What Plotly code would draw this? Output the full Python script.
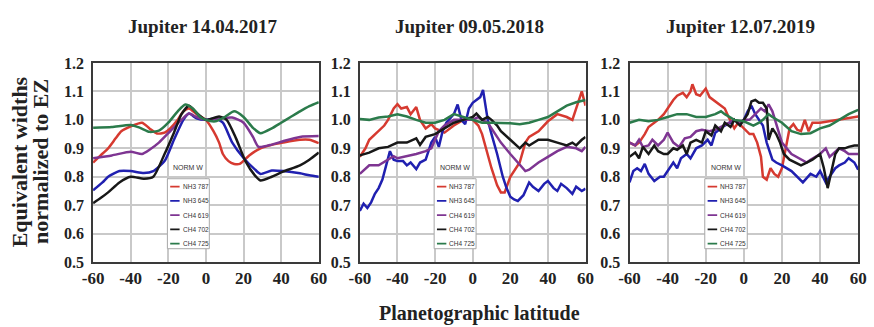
import plotly.graph_objects as go

# ---------------- data ----------------
titles = ["Jupiter 14.04.2017", "Jupiter 09.05.2018", "Jupiter 12.07.2019"]
series_names = ["NH3 787", "NH3 645", "CH4 619", "CH4 702", "CH4 725"]
series_colors = ["#d63a30", "#2020b0", "#7e3592", "#181818", "#2b7b4b"]
x_ticks = [-60, -40, -20, 0, 20, 40, 60]
x_tick_text = ["-60", "-40", "-20", "0", "20", "40", "60"]
y_ticks = [0.5, 0.6, 0.7, 0.8, 0.9, 1.0, 1.1, 1.2]
y_tick_text = ["0.5", "0.6", "0.7", "0.8", "0.9", "1.0", "1.1", "1.2"]

# 2017
lat17_nh3_787 = [-60, -56, -52, -48, -45, -40, -34, -30, -26, -22, -19, -15, -12, -9, -5, 0, 4, 7, 9, 12, 15, 18, 23, 29, 35, 41, 50, 55, 60]
w17_nh3_787 = [0.85, 0.875, 0.9, 0.935, 0.96, 0.977, 0.99, 0.97, 0.952, 0.955, 0.97, 1.0, 1.03, 1.04, 1.02, 1.0, 0.96, 0.92, 0.88, 0.855, 0.845, 0.845, 0.875, 0.9, 0.912, 0.92, 0.93, 0.93, 0.918]
lat17_nh3_645 = [-60, -55, -52, -46, -40, -33, -28, -22, -17, -12, -9, -5, 0, 5, 9, 14, 20, 26, 29, 35, 41, 50, 55, 60]
w17_nh3_645 = [0.752, 0.78, 0.8, 0.82, 0.82, 0.813, 0.82, 0.855, 0.93, 1.0, 1.022, 1.005, 1.0, 1.005, 0.99, 0.92, 0.866, 0.826, 0.81, 0.822, 0.82, 0.812, 0.805, 0.8]
lat17_ch4_619 = [-60, -50, -40, -34, -30, -25, -19, -13, -9, -5, 0, 7, 14, 20, 25, 28, 35, 41, 50, 60]
w17_ch4_619 = [0.865, 0.875, 0.888, 0.88, 0.895, 0.92, 0.96, 1.0, 1.022, 1.01, 1.0, 1.005, 1.008, 0.99, 0.94, 0.905, 0.913, 0.925, 0.94, 0.943]
lat17_ch4_702 = [-60, -56, -52, -46, -40, -33, -28, -22, -17, -13, -9, -5, 0, 7, 11, 16, 21, 26, 29, 35, 41, 50, 55, 60]
w17_ch4_702 = [0.707, 0.725, 0.745, 0.78, 0.8, 0.793, 0.8, 0.88, 0.955, 1.02, 1.05, 1.025, 1.0, 1.012, 1.0, 0.935, 0.855, 0.805, 0.787, 0.8, 0.818, 0.84, 0.86, 0.885]
lat17_ch4_725 = [-60, -50, -40, -35, -30, -25, -20, -15, -11, -7, -3, 0, 5, 10, 15, 20, 25, 29, 35, 40, 45, 50, 55, 60]
w17_ch4_725 = [0.972, 0.975, 0.982, 0.972, 0.958, 0.962, 0.99, 1.03, 1.054, 1.04, 1.01, 1.0, 0.995, 1.01, 1.03, 1.01, 0.972, 0.953, 0.97, 0.99, 1.01, 1.03, 1.048, 1.062]

# 2018
lat18_nh3_787 = [-60, -57, -55, -50, -47, -45, -42, -40, -38, -35, -33, -30, -28, -25, -22, -20, -15, -10, -5, 0, 3, 5, 7, 10, 13, 15, 17, 20, 25, 28, 30, 35, 40, 45, 50, 53, 56, 58, 60]
w18_nh3_787 = [0.87, 0.9, 0.93, 0.96, 0.98, 1.0, 1.04, 1.055, 1.04, 1.045, 1.02, 1.045, 1.0, 0.97, 0.985, 0.97, 0.955, 0.98, 1.0, 1.0, 0.98, 0.95, 0.9, 0.83, 0.77, 0.745, 0.745, 0.8, 0.85, 0.92, 0.94, 0.96, 0.995, 1.02, 1.01, 1.0, 1.06, 1.1, 1.05]
lat18_nh3_645 = [-60, -58, -56, -54, -52, -50, -48, -46, -44, -42, -40, -37, -35, -33, -30, -28, -25, -22, -20, -18, -16, -14, -10, -8, -6, -4, -2, 0, 2, 4, 5.5, 7, 8, 10, 13, 16, 18, 20, 22, 24, 27, 30, 32, 35, 38, 40, 43, 45, 47, 50, 53, 55, 58, 60]
w18_nh3_645 = [0.68, 0.705, 0.69, 0.71, 0.74, 0.76, 0.79, 0.84, 0.89, 0.86, 0.855, 0.855, 0.84, 0.85, 0.827, 0.85, 0.86, 0.92, 0.94, 0.905, 0.96, 0.99, 1.02, 1.054, 1.0, 0.985, 1.04, 1.06, 1.07, 1.08, 1.105, 1.04, 1.0, 0.95, 0.88, 0.8, 0.76, 0.73, 0.72, 0.715, 0.735, 0.78, 0.765, 0.75, 0.775, 0.785, 0.76, 0.75, 0.775, 0.76, 0.74, 0.765, 0.75, 0.758]
lat18_ch4_619 = [-60, -57, -55, -50, -45, -42, -40, -35, -30, -25, -22, -20, -18, -15, -10, -5, 0, 3, 5, 8, 10, 13, 15, 20, 25, 28, 30, 35, 40, 45, 50, 55, 58, 60]
w18_ch4_619 = [0.81, 0.83, 0.84, 0.84, 0.86, 0.872, 0.865, 0.872, 0.88, 0.89, 0.9, 0.93, 0.96, 0.98, 1.0, 1.0, 1.0, 1.01, 1.0, 0.99, 0.97, 0.94, 0.92, 0.88, 0.84, 0.82, 0.825, 0.85, 0.87, 0.89, 0.905, 0.9, 0.89, 0.905]
lat18_ch4_702 = [-60, -55, -50, -45, -40, -35, -30, -28, -25, -20, -15, -10, -5, 0, 2, 5, 8, 10, 13, 15, 20, 25, 28, 30, 35, 40, 45, 50, 53, 55, 58, 60]
w18_ch4_702 = [0.875, 0.885, 0.9, 0.905, 0.92, 0.92, 0.935, 0.912, 0.94, 0.95, 0.97, 0.99, 1.0, 1.01, 1.022, 1.0, 1.01, 1.0, 0.98, 0.96, 0.93, 0.9, 0.92, 0.91, 0.93, 0.93, 0.92, 0.91, 0.92, 0.91, 0.93, 0.94]
lat18_ch4_725 = [-60, -55, -50, -45, -40, -35, -30, -25, -20, -15, -10, -5, 0, 5, 10, 15, 20, 25, 30, 35, 40, 45, 50, 55, 60]
w18_ch4_725 = [1.003, 1.0, 1.008, 1.012, 1.02, 1.012, 1.0, 0.99, 0.99, 1.0, 1.02, 1.01, 1.0, 0.99, 0.99, 0.99, 0.988, 0.985, 0.99, 1.0, 1.01, 1.03, 1.05, 1.062, 1.07]

# 2019
lat19_nh3_787 = [-60, -57, -55, -52, -50, -47, -45, -42, -40, -37, -35, -32, -30, -28, -27, -25, -23, -20, -18, -15, -12, -10, -8, -5, -3, 0, 3, 5, 7, 9, 10, 12, 14, 16, 18, 20, 22, 24, 26, 28, 30, 32, 34, 36, 40, 45, 50, 55, 60]
w19_nh3_787 = [0.92, 0.91, 0.92, 0.95, 0.975, 0.99, 1.0, 1.02, 1.04, 1.07, 1.085, 1.095, 1.08, 1.1, 1.125, 1.09, 1.085, 1.11, 1.08, 1.065, 1.05, 1.04, 1.01, 0.97, 0.99, 0.97, 0.95, 0.95, 0.92, 0.87, 0.8, 0.79, 0.83, 0.81, 0.8, 0.83, 0.9, 0.97, 0.985, 0.965, 0.96, 1.0, 0.96, 0.99, 0.99, 0.995, 1.0, 1.005, 1.012]
lat19_nh3_645 = [-60, -58, -56, -54, -52, -50, -47, -44, -42, -40, -37, -35, -33, -30, -28, -25, -22, -19, -17, -15, -12, -10, -7, -5, -2, 0, 2, 4, 6, 8, 10, 12, 15, 17, 20, 25, 28, 31, 35, 38, 40, 43, 45, 48, 50, 53, 55, 58, 60]
w19_nh3_645 = [0.78, 0.82, 0.83, 0.82, 0.845, 0.81, 0.785, 0.8, 0.8, 0.82, 0.85, 0.83, 0.865, 0.88, 0.865, 0.9, 0.91, 0.93, 0.91, 0.955, 0.97, 0.98, 0.99, 1.0, 0.99, 1.0, 1.03, 1.05, 1.02, 1.0, 0.98, 0.92, 0.86, 0.85, 0.84, 0.82, 0.8, 0.78, 0.81, 0.8, 0.82, 0.78, 0.8, 0.83, 0.84, 0.85, 0.865, 0.85, 0.825]
lat19_ch4_619 = [-60, -57, -55, -53, -50, -48, -45, -42, -40, -37, -34, -31, -28, -25, -22, -18, -15, -12, -8, -5, -2, 0, 3, 6, 9, 11, 13, 15, 18, 20, 25, 30, 33, 35, 40, 43, 45, 50, 53, 55, 60]
w19_ch4_619 = [0.92, 0.91, 0.93, 0.905, 0.91, 0.93, 0.91, 0.93, 0.955, 0.92, 0.905, 0.935, 0.94, 0.96, 0.965, 0.96, 0.965, 0.975, 0.99, 1.0, 0.99, 1.0, 1.0, 1.02, 1.04, 1.03, 1.055, 1.03, 0.96, 0.92, 0.88, 0.86, 0.85, 0.86, 0.88, 0.9, 0.87, 0.9, 0.89, 0.88, 0.88]
lat19_ch4_702 = [-60, -57, -55, -53, -50, -47, -45, -42, -40, -37, -35, -32, -30, -28, -25, -22, -20, -17, -15, -12, -10, -7, -5, -2, 0, 2, 4, 6, 8, 10, 12, 13, 15, 17, 19, 21, 24, 27, 30, 33, 36, 40, 42, 44, 46, 48, 50, 53, 55, 58, 60]
w19_ch4_702 = [0.87, 0.885, 0.865, 0.905, 0.88, 0.91, 0.89, 0.88, 0.88, 0.9, 0.895, 0.91, 0.88, 0.92, 0.93, 0.92, 0.96, 0.945, 0.98, 0.96, 0.99, 0.975, 1.0, 0.98, 1.0, 1.02, 1.065, 1.07, 1.06, 1.06, 1.04, 0.93, 0.97, 0.95, 0.92, 0.88, 0.86, 0.85, 0.84, 0.85, 0.86, 0.88, 0.83, 0.76, 0.82, 0.88, 0.9, 0.9, 0.905, 0.91, 0.91]
lat19_ch4_725 = [-60, -55, -50, -45, -40, -35, -30, -25, -20, -15, -12, -10, -5, 0, 5, 8, 10, 13, 15, 20, 25, 30, 35, 40, 45, 50, 55, 60]
w19_ch4_725 = [0.99, 1.0, 0.995, 1.0, 1.01, 1.02, 1.02, 1.01, 1.01, 1.02, 1.03, 1.02, 1.0, 0.995, 0.98, 0.99, 1.0, 1.02, 1.01, 0.99, 0.96, 0.95, 0.953, 0.97, 0.98, 1.0, 1.02, 1.035]

panels = [
    [(lat17_nh3_787, w17_nh3_787), (lat17_nh3_645, w17_nh3_645), (lat17_ch4_619, w17_ch4_619), (lat17_ch4_702, w17_ch4_702), (lat17_ch4_725, w17_ch4_725)],
    [(lat18_nh3_787, w18_nh3_787), (lat18_nh3_645, w18_nh3_645), (lat18_ch4_619, w18_ch4_619), (lat18_ch4_702, w18_ch4_702), (lat18_ch4_725, w18_ch4_725)],
    [(lat19_nh3_787, w19_nh3_787), (lat19_nh3_645, w19_nh3_645), (lat19_ch4_619, w19_ch4_619), (lat19_ch4_702, w19_ch4_702), (lat19_ch4_725, w19_ch4_725)],
]

# ---------------- layout ----------------
W, H = 874, 327
x_domains = [(84 / W, 315 / W), (357 / W, 588 / W), (633 / W, 867 / W)]
y_domain = (1 - 268 / H, 1 - 58 / H)
SERIF = "Liberation Serif"

fig = go.Figure()
shapes = []
annotations = []

for p, series in enumerate(panels):
    sfx = "" if p == 0 else str(p + 1)
    xref, yref = "x" + sfx, "y" + sfx
    for s, (lat, w) in enumerate(series):
        fig.add_trace(go.Scatter(
            x=lat, y=w, mode="lines", name=series_names[s], showlegend=False,
            xaxis=xref, yaxis=yref,
            line=dict(color=series_colors[s], width=2.5,
                      shape="spline" if p == 0 else "linear", smoothing=0.6),
        ))
    fig.update_layout({
        "xaxis" + sfx: dict(
            domain=list(x_domains[p]), range=[-60, 60], tickvals=x_ticks, ticktext=x_tick_text,
            anchor=yref, showgrid=True, gridcolor="#c9c9c9", gridwidth=1.6, zeroline=False,
            showline=True, linecolor="#3a3a3a", linewidth=2, mirror=True, ticks="",
            tickfont=dict(family=SERIF, size=17, color="#222", weight=700),
        ),
        "yaxis" + sfx: dict(
            domain=list(y_domain), range=[0.5, 1.2], tickvals=y_ticks, ticktext=y_tick_text,
            anchor=xref, showgrid=True, gridcolor="#c9c9c9", gridwidth=1.6, zeroline=False,
            showline=True, linecolor="#3a3a3a", linewidth=2, mirror=True, ticks="",
            ticklabelstandoff=4,
            tickfont=dict(family=SERIF, size=16, color="#222", weight=700),
        ),
    })
    # panel title
    annotations.append(dict(
        text="<b>" + titles[p] + "</b>", xref="paper", yref="paper",
        x=(x_domains[p][0] + x_domains[p][1]) / 2 - 3 / W, y=1 - 19 / H,
        xanchor="center", yanchor="middle",
        showarrow=False, font=dict(family=SERIF, size=19, color="#222"),
    ))
    # legend box
    shapes.append(dict(type="rect", xref=xref, yref=yref, x0=-20.5, x1=1.8, y0=0.547, y1=0.793,
                       line=dict(color="#a8a8a8", width=1), fillcolor="white", layer="between"))
    annotations.append(dict(text="NORM W", xref=xref, yref=yref, x=-9.5, y=0.832,
                            xanchor="center", yanchor="middle",
                            showarrow=False, font=dict(family="Liberation Sans", size=7, color="#333")))
    for s in range(5):
        yy = 0.765 - 0.05 * s
        shapes.append(dict(type="line", xref=xref, yref=yref, x0=-19, x1=-14, y0=yy, y1=yy,
                           line=dict(color=series_colors[s], width=1.8), layer="above"))
        annotations.append(dict(text=series_names[s], xref=xref, yref=yref, x=-13.5, y=yy,
                                xanchor="left", yanchor="middle", showarrow=False,
                                font=dict(family="Liberation Sans", size=6.5, color="#333")))

# axis titles
annotations.append(dict(text="<b>Planetographic latitude</b>", xref="paper", yref="paper",
                        x=479 / W, y=1 - 322 / H, xanchor="center", yanchor="middle", showarrow=False,
                        font=dict(family=SERIF, size=20, color="#222")))
annotations.append(dict(text="<b>Equivalent widths</b>", xref="paper", yref="paper",
                        x=9 / W, y=1 - 162 / H, xanchor="center", yanchor="middle",
                        textangle=-90, showarrow=False,
                        font=dict(family=SERIF, size=22, color="#222")))
annotations.append(dict(text="<b>normalized to EZ</b>", xref="paper", yref="paper",
                        x=30 / W, y=1 - 162 / H, xanchor="center", yanchor="middle",
                        textangle=-90, showarrow=False,
                        font=dict(family=SERIF, size=22, color="#222")))

fig.update_layout(
    width=W, height=H, margin=dict(l=0, r=0, t=0, b=0),
    font=dict(family=SERIF, color="#222"),
    paper_bgcolor="white", plot_bgcolor="white",
    shapes=shapes, annotations=annotations, showlegend=False,
)

fig.write_html("out.html")
